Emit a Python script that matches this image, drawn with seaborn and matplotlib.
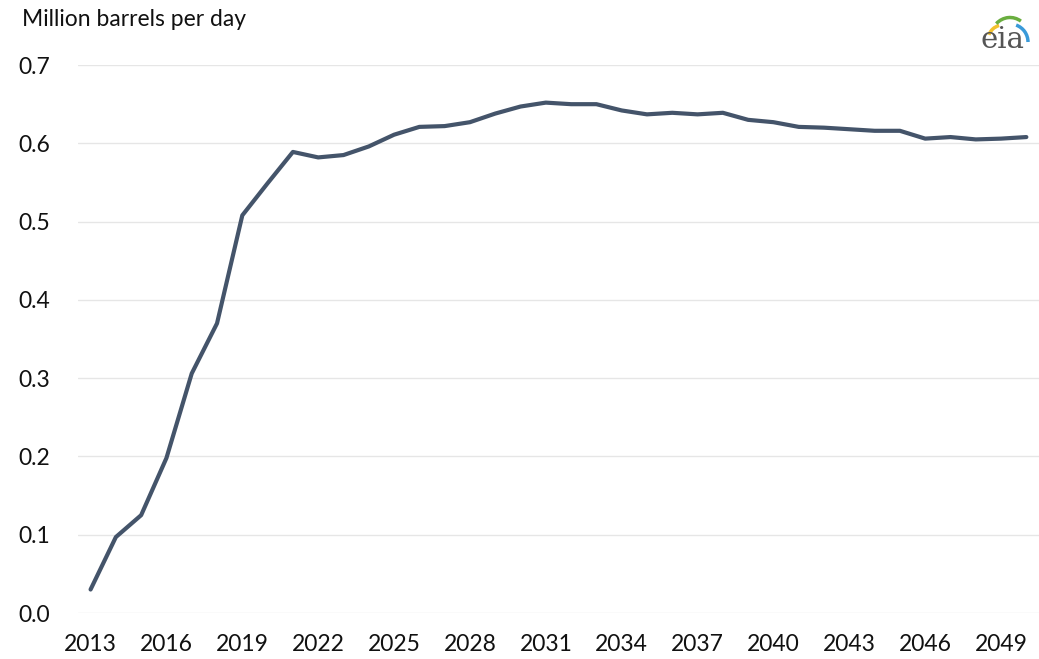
import numpy as np
import pandas as pd
import matplotlib
matplotlib.use("Agg")
import matplotlib.pyplot as plt
import seaborn as sns
from matplotlib.patches import Arc

# Data (million barrels per day)
years = list(range(2013, 2051))
production = [0.030, 0.097, 0.125, 0.198, 0.306, 0.370, 0.508, 0.549, 0.589, 0.582,
              0.585, 0.596, 0.611, 0.621, 0.622, 0.627, 0.638, 0.647, 0.652, 0.650,
              0.650, 0.642, 0.637, 0.639, 0.637, 0.639, 0.630, 0.627, 0.621, 0.620,
              0.618, 0.616, 0.616, 0.606, 0.608, 0.605, 0.606, 0.608]
tick_years = list(range(2013, 2050, 3))
y_ticks = [0.0, 0.1, 0.2, 0.3, 0.4, 0.5, 0.6, 0.7]

df = pd.DataFrame({"year": years, "value": production})

sns.set_theme(style="white")
plt.rcParams["font.family"] = ["Lato", "DejaVu Sans"]

fig = plt.figure(figsize=(10.39, 6.59), dpi=100)
ax = fig.add_axes([0.075, 0.0698, 0.925, 0.8315])

sns.lineplot(data=df, x="year", y="value", ax=ax, color="#44546A", linewidth=3.0)

ax.set_xlim(2012.5, 2050.5)
ax.set_ylim(0, 0.7)
ax.set_xticks(tick_years)
ax.set_xticklabels([str(y) for y in tick_years])
ax.set_yticks(y_ticks)
ax.set_yticklabels([f"{v:.1f}" for v in y_ticks])
ax.tick_params(axis="both", length=0, labelsize=16.5, colors="#111111")
ax.tick_params(axis="y", pad=20)
ax.tick_params(axis="x", pad=15)
ax.yaxis.grid(True, color="#e6e6e6", linewidth=1.0)
ax.xaxis.grid(False)
ax.set_axisbelow(True)
for s in ax.spines.values():
    s.set_visible(False)
ax.set_xlabel("")
ax.set_ylabel("")

fig.text(22 / 1039, 1 - 20 / 659, "Million barrels per day", fontsize=16.5,
         color="#111111", ha="left", va="center")

# eia logo
fig.text(1003 / 1039, 1 - 40 / 659, "eia", fontsize=21, color="#555555",
         family=["DejaVu Serif"], ha="center", va="center")
lax = fig.add_axes([950 / 1039, 1 - 60 / 659, 89 / 1039, 60 / 659])
lax.set_xlim(950, 1039)
lax.set_ylim(60, 0)
lax.axis("off")
lax.add_patch(Arc((1003, 40), 30, 30, theta1=200, theta2=255, color="#F2C12E", lw=2.5))
lax.add_patch(Arc((1010, 40), 40, 45, theta1=230, theta2=300, color="#6AAE3F", lw=2.5))
lax.add_patch(Arc((1010, 42), 36, 36, theta1=290, theta2=360, color="#3A9AD9", lw=2.5))

fig.savefig("out.png", dpi=100)
